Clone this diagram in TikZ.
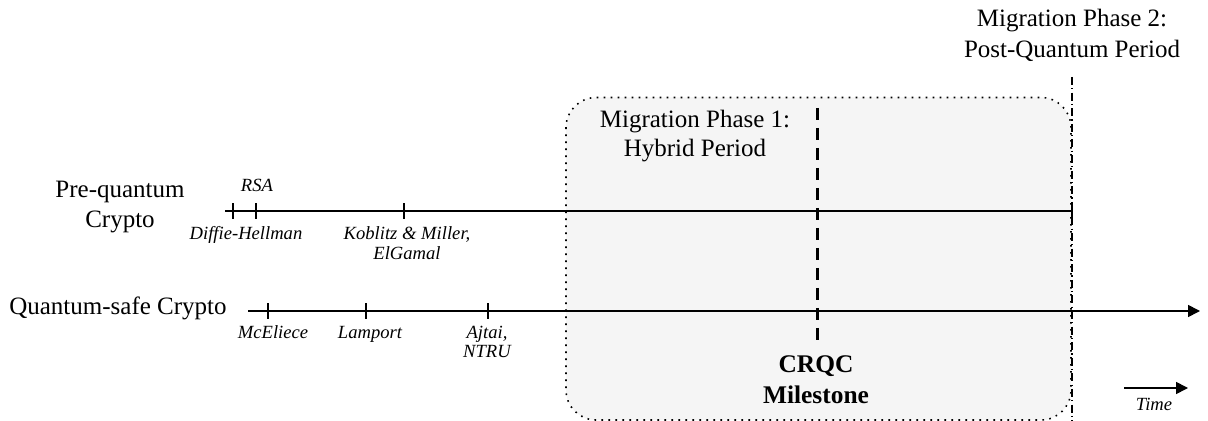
\documentclass[tikz,border=0pt]{standalone}
\usepackage{fontspec}
\setmainfont{Liberation Serif}
\usetikzlibrary{arrows.meta}
\begin{document}
\begin{tikzpicture}[x=0.5pt,y=-0.5pt,
  mainlabel/.style={font=\fontsize{12.5}{15}\selectfont, anchor=base, inner sep=0pt},
  eventlabel/.style={font=\fontsize{9.3}{10}\selectfont\itshape, anchor=base, inner sep=0pt},
  milestonelabel/.style={font=\fontsize{12.7}{15.5}\selectfont\bfseries, anchor=base, inner sep=0pt},
  timeline/.style={line width=0.8pt},
  tickmark/.style={line width=0.8pt},
  arrowtip/.style={-{Triangle[length=6pt,width=6pt]}},
  hybridbox/.style={draw=black, fill=black!4, line width=0.8pt, rounded corners=15pt,
    dash pattern=on 0.8pt off 2.7pt},
  crqcline/.style={line width=1.5pt, dash pattern=on 6pt off 4pt},
  phaseline/.style={line width=0.6pt, dash pattern=on 4pt off 1.6pt on 0.6pt off 1.6pt}
]
\useasboundingbox (0,0) rectangle (1208,421);

% hybrid migration period
\draw[hybridbox] (566,97.5) rectangle (1071,420);

% phase boundaries
\coordinate (crqctop) at (817,108);
\coordinate (crqcbot) at (817,346);
\draw[crqcline] (crqctop) -- (crqcbot);
\coordinate (phtop) at (1072,77);
\coordinate (phbot) at (1072,421);
\draw[phaseline] (phtop) -- (phbot);

% pre-quantum timeline
\coordinate (pqs) at (225,211);
\coordinate (pqe) at (1072,211);
\draw[timeline] (pqs) -- (pqe);
\foreach \n/\x in {dh/233, rsa/256, kob/404, pqend/1072}{
  \coordinate (\n) at (\x,211);
  \draw[tickmark] ([yshift=3.8pt]\n) -- ([yshift=-3.8pt]\n);
}

% quantum-safe timeline
\coordinate (qss) at (248,311);
\coordinate (qse) at (1200,311);
\draw[timeline, arrowtip] (qss) -- (qse);
\foreach \n/\x in {mce/268, lam/366, ajt/488}{
  \coordinate (\n) at (\x,311);
  \draw[tickmark] ([yshift=3.8pt]\n) -- ([yshift=-3.8pt]\n);
}

% row labels
\node[mainlabel] (pqlabela) at (120,198) {Pre-quantum};
\node[mainlabel] (pqlabelb) at (120,228) {Crypto};
\node[mainlabel] (qslabel) at (118,315) {Quantum-safe Crypto};

% events
\node[eventlabel] (rsalabel) at (257,192) {RSA};
\node[eventlabel] (dhlabel) at (246,240) {Diffie-Hellman};
\node[eventlabel] (koblabela) at (407,240) {Koblitz \& Miller,};
\node[eventlabel] (koblabelb) at (407,260) {ElGamal};
\node[eventlabel] (mcelabel) at (273,339) {McEliece};
\node[eventlabel] (lamlabel) at (370,339) {Lamport};
\node[eventlabel] (ajtlabela) at (487,339) {Ajtai,};
\node[eventlabel] (ajtlabelb) at (487,358) {NTRU};

% phases
\node[mainlabel] (phase1a) at (695,128) {Migration Phase 1:};
\node[mainlabel] (phase1b) at (695,157) {Hybrid Period};
\node[mainlabel] (phase2a) at (1072,27) {Migration Phase 2:};
\node[mainlabel] (phase2b) at (1072,58) {Post-Quantum Period};
\node[milestonelabel] (crqca) at (816,373) {CRQC};
\node[milestonelabel] (crqcb) at (816,404) {Milestone};

% time direction
\coordinate (ts) at (1124,388);
\coordinate (te) at (1188,388);
\draw[timeline, arrowtip] (ts) -- (te);
\node[eventlabel] (timelabel) at (1154,410) {Time};
\end{tikzpicture}
\end{document}
